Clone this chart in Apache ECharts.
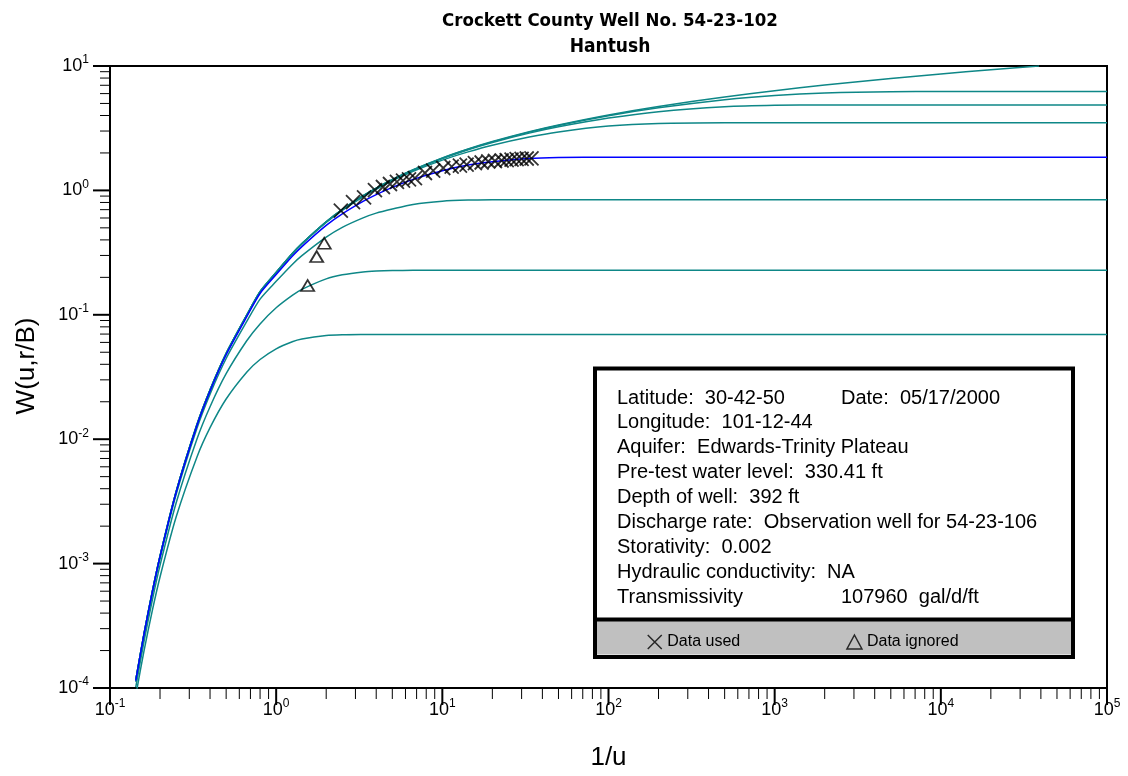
<!DOCTYPE html>
<html>
<head>
<meta charset="utf-8">
<title>Crockett County Well No. 54-23-102</title>
<script src="https://cdn.jsdelivr.net/npm/echarts@6/dist/echarts.min.js"></script>
<style>
  html, body { margin: 0; padding: 0; background: #fff; }
  #chart { width: 1128px; height: 776px; }
</style>
</head>
<body>
<div id="chart"></div>
<script>
// 1/u positions shared by every type curve
const xValues = [0.1429, 0.16, 0.18, 0.2, 0.25, 0.3333, 0.4, 0.5, 0.6667, 0.8, 1, 1.25, 1.4286, 2, 2.5, 3.3333, 4, 5, 6.6667, 10, 14.29, 20, 33.33, 50, 100, 200, 500, 1000, 2000, 5000, 10000, 20000, 39000, 100000];

// W(u,r/B)
const wTheis = [1.155e-4, 2.704e-4, 6.01e-4, 1.148e-3, 3.779e-3, 1.305e-2, 2.491e-2, 4.89e-2, 0.1, 0.1536, 0.2194, 0.3106, 0.3738, 0.5598, 0.7024, 0.9057, 1.0443, 1.2227, 1.4645, 1.8229, 2.1508, 2.4679, 2.9591, 3.3547, 4.0379, 4.7261, 5.6394, 6.3315, 7.0242, 7.9402, 8.6332, 9.3263, 9.99, null];
const wRB005 = [1.155e-4, 2.704e-4, 6.01e-4, 1.148e-3, 3.778e-3, 1.305e-2, 2.49e-2, 4.888e-2, 0.09996, 0.1535, 0.2193, 0.3104, 0.3736, 0.5594, 0.7018, 0.9046, 1.0429, 1.2206, 1.4612, 1.8169, 2.1409, 2.4545, 2.94, 3.3268, 3.9832, 4.6094, 5.3537, 5.7967, 6.075, 6.2174, 6.2282, 6.2285, 6.2285, 6.2285];
const wRB01 = [1.1546e-4, 2.7031e-4, 6.0078e-4, 1.1475e-3, 3.777e-3, 1.3041e-2, 2.4891e-2, 4.8854e-2, 0.099881, 0.15339, 0.21903, 0.30998, 0.37296, 0.55812, 0.69984, 0.90144, 1.03851, 1.21439, 1.4515, 1.79918, 2.122, 2.4271, 2.8858, 3.243, 3.8156, 4.296, 4.7007, 4.8292, 4.853, 4.8541, 4.8541, 4.8541, 4.8541, 4.8541];
const wRB02 = [1.1535e-4, 2.7002e-4, 6.0006e-4, 1.146e-3, 3.7711e-3, 1.3015e-2, 2.4833e-2, 4.8717e-2, 0.099525, 0.15275, 0.21794, 0.30811, 0.37045, 0.55312, 0.69223, 0.8888, 1.0213, 1.195, 1.4245, 1.7527, 2.0407, 2.3104, 2.6882, 2.9523, 3.2875, 3.4567, 3.5043, 3.5054, 3.5054, 3.5054, 3.5054, 3.5054, 3.5054, 3.5054];
const wRB05 = [1.1459e-4, 2.6803e-4, 5.9516e-4, 1.1358e-3, 3.7301e-3, 1.2834e-2, 2.443e-2, 4.7767e-2, 0.097067, 0.14837, 0.21045, 0.29538, 0.35337, 0.523, 0.647, 0.815, 0.9244, 1.0568, 1.2258, 1.441, 1.5971, 1.7004, 1.8062, 1.8378, 1.8485, 1.8488, 1.8488, 1.8488, 1.8488, 1.8488, 1.8488, 1.8488, 1.8488, 1.8488];
const wRB1 = [1.119e-4, 2.611e-4, 5.78e-4, 1.0998e-3, 3.587e-3, 1.2208e-2, 2.3047e-2, 4.452e-2, 0.08878, 0.1337, 0.1857, 0.254, 0.2986, 0.421, 0.5047, 0.6015, 0.6563, 0.7083, 0.7718, 0.819, 0.836, 0.8409, 0.842, 0.842, 0.842, 0.842, 0.842, 0.842, 0.842, 0.842, 0.842, 0.842, 0.842, 0.842];
const wRB2 = [1.017e-4, 2.349e-4, 5.141e-4, 9.672e-4, 3.068e-3, 9.995e-3, 1.825e-2, 3.361e-2, 0.0621, 0.0845, 0.1139, 0.1433, 0.16, 0.1944, 0.2096, 0.2211, 0.2247, 0.2268, 0.2277, 0.2278, 0.2278, 0.2278, 0.2278, 0.2278, 0.2278, 0.2278, 0.2278, 0.2278, 0.2278, 0.2278, 0.2278, 0.2278, 0.2278, 0.2278];
const wRB3 = [8.68e-5, 1.971e-4, 4.229e-4, 7.81e-4, 2.365e-3, 7.162e-3, 1.237e-2, 2.103e-2, 0.0347, 0.0437, 0.0533, 0.0607, 0.0638, 0.0681, 0.0691, 0.06945, 0.0695, 0.0695, 0.0695, 0.0695, 0.0695, 0.0695, 0.0695, 0.0695, 0.0695, 0.0695, 0.0695, 0.0695, 0.0695, 0.0695, 0.0695, 0.0695, 0.0695, 0.0695];

// observations
const usedX = [2.45, 2.9, 3.38, 3.93, 4.39, 4.84, 5.33, 5.8, 6.3, 6.84, 7.86, 8.81, 10.13, 11.38, 12.76, 14.0, 15.7, 17.24, 18.89, 20.73, 22.74, 24.4, 26.1, 28.0, 30.0, 32.2, 34.4];
const usedY = [0.689, 0.804, 0.88, 1.007, 1.065, 1.126, 1.17, 1.2, 1.225, 1.255, 1.38, 1.445, 1.514, 1.556, 1.585, 1.614, 1.66, 1.676, 1.707, 1.723, 1.739, 1.755, 1.771, 1.781, 1.795, 1.805, 1.811];
const ignoredX = [1.547, 1.753, 1.947];
const ignoredY = [0.172, 0.294, 0.376];

// axis decades (tick labels are 10^k)
const xDecades = [-1, 0, 1, 2, 3, 4, 5];
const yDecades = [-4, -3, -2, -1, 0, 1];

const infoRows = [
  ["Latitude:  30-42-50", "Date:  05/17/2000"],
  ["Longitude:  101-12-44", ""],
  ["Aquifer:  Edwards-Trinity Plateau", ""],
  ["Pre-test water level:  330.41 ft", ""],
  ["Depth of well:  392 ft", ""],
  ["Discharge rate:  Observation well for 54-23-106", ""],
  ["Storativity:  0.002", ""],
  ["Hydraulic conductivity:  NA", ""],
  ["Transmissivity", "107960  gal/d/ft"],
];

const FONT = '"Liberation Sans", Arial, sans-serif';
const TITLE_FONT = '"Liberation Sans Narrow", "DejaVu Sans Condensed", sans-serif';
const TEAL = "#0e8787";
const BLUE = "#0000ff";
const X_ICON = "path://M0,0L10,10M10,0L0,10";

const xMin = Math.pow(10, xDecades[0]);
const xMax = Math.pow(10, xDecades[xDecades.length - 1]);
const yMin = Math.pow(10, yDecades[0]);
const yMax = Math.pow(10, yDecades[yDecades.length - 1]);

function pairs(ys) {
  return xValues.map((x, i) => [x, ys[i]]).filter((p) => p[1] != null);
}

function minorTicks(decades) {
  const out = [];
  decades.slice(0, -1).forEach((k) => {
    for (let m = 2; m <= 9; m++) {
      out.push(m * Math.pow(10, k));
    }
  });
  return out;
}

function tickSeries(values, vertical, length, width) {
  return {
    type: "custom",
    silent: true,
    clip: false,
    z: 6,
    data: values.map((v) => (vertical ? [xMin, v] : [v, yMin])),
    renderItem: (params, api) => {
      const p = api.coord([api.value(0), api.value(1)]);
      const shape = vertical
        ? { x1: p[0], y1: p[1], x2: p[0] - length, y2: p[1] }
        : { x1: p[0], y1: p[1], x2: p[0], y2: p[1] + length };
      return { type: "line", shape, style: { stroke: "#000", lineWidth: width } };
    },
  };
}

function powerLabel(value) {
  return `{b|10}{s|${Math.round(Math.log10(value))}}`;
}

const labelRich = {
  b: { fontSize: 18, fontFamily: FONT, color: "#000" },
  s: { fontSize: 12, fontFamily: FONT, color: "#000", padding: [0, 0, 12, 0] },
};

const typeCurves = [
  { name: "r/B 0", values: wTheis, color: TEAL },
  { name: "r/B 0.05", values: wRB005, color: TEAL },
  { name: "r/B 0.1", values: wRB01, color: TEAL },
  { name: "r/B 0.2", values: wRB02, color: TEAL },
  { name: "r/B 1", values: wRB1, color: TEAL },
  { name: "r/B 2", values: wRB2, color: TEAL },
  { name: "r/B 3", values: wRB3, color: TEAL },
  { name: "r/B 0.5", values: wRB05, color: BLUE },
];

const curveSeries = typeCurves.map((c) => ({
  name: c.name,
  type: "line",
  data: pairs(c.values),
  symbol: "none",
  smooth: 0.25,
  clip: true,
  z: c.color === BLUE ? 3 : 2,
  lineStyle: { color: c.color, width: 1.5 },
}));

const infoGraphics = [];
infoRows.forEach((row, i) => {
  const y = 398 + i * 24.9;
  infoGraphics.push({
    type: "text", z: 11,
    style: { text: row[0], x: 617, y, font: `20px ${FONT}`, fill: "#000", verticalAlign: "middle" },
  });
  if (row[1]) {
    infoGraphics.push({
      type: "text", z: 11,
      style: { text: row[1], x: 841, y, font: `20px ${FONT}`, fill: "#000", verticalAlign: "middle" },
    });
  }
});

const chart = echarts.init(document.getElementById("chart"));

chart.setOption({
  animation: false,
  backgroundColor: "#fff",
  textStyle: { fontFamily: FONT },
  title: {
    text: "Crockett County Well No. 54-23-102",
    subtext: "Hantush",
    left: 605,
    top: 7,
    textAlign: "center",
    itemGap: 7,
    textStyle: { fontFamily: TITLE_FONT, fontWeight: "bold", fontSize: 18.5, color: "#000" },
    subtextStyle: { fontFamily: TITLE_FONT, fontWeight: "bold", fontSize: 19, color: "#000" },
  },
  grid: {
    left: 110,
    right: 21,
    top: 66,
    bottom: 88,
    show: true,
    borderColor: "#000",
    borderWidth: 2,
    backgroundColor: "transparent",
  },
  xAxis: {
    type: "log",
    logBase: 10,
    min: xMin,
    max: xMax,
    splitNumber: 6,
    name: "1/u",
    nameLocation: "middle",
    nameGap: 57,
    nameTextStyle: { fontSize: 26, fontFamily: FONT, color: "#000" },
    axisLine: { lineStyle: { color: "#000", width: 2 } },
    axisTick: { show: false },
    splitLine: { show: false },
    axisLabel: { margin: 10, formatter: powerLabel, rich: labelRich },
  },
  yAxis: {
    type: "log",
    logBase: 10,
    min: yMin,
    max: yMax,
    splitNumber: 5,
    name: "W(u,r/B)",
    nameLocation: "middle",
    nameGap: 70,
    nameTextStyle: { fontSize: 26, fontFamily: FONT, color: "#000", padding: [0, 0, 0, 22] },
    axisLine: { lineStyle: { color: "#000", width: 2 } },
    axisTick: { show: false },
    splitLine: { show: false },
    axisLabel: { margin: 21, formatter: powerLabel, rich: labelRich },
  },
  legend: {
    left: 642,
    top: 629,
    z: 12,
    itemWidth: 15,
    itemHeight: 14,
    itemGap: 106,
    selectedMode: false,
    textStyle: { fontSize: 16, fontFamily: FONT, color: "#000" },
    data: [
      { name: "Data used", icon: X_ICON, itemStyle: { color: "transparent", borderColor: "#000", borderWidth: 1.5 } },
      { name: "Data ignored", icon: "triangle", itemStyle: { color: "transparent", borderColor: "#000", borderWidth: 1.5 } },
    ],
  },
  graphic: [
    {
      type: "rect", z: 10,
      shape: { x: 595, y: 368.5, width: 478, height: 288.5 },
      style: { fill: "#fff", stroke: "#000", lineWidth: 4 },
    },
    {
      type: "rect", z: 10,
      shape: { x: 597, y: 621, width: 474, height: 33.5 },
      style: { fill: "#c0c0c0" },
    },
    {
      type: "line", z: 10,
      shape: { x1: 595, y1: 619.5, x2: 1073, y2: 619.5 },
      style: { stroke: "#000", lineWidth: 4 },
    },
    ...infoGraphics,
  ],
  series: [
    ...curveSeries,
    {
      name: "Data used",
      type: "scatter",
      z: 4,
      symbol: X_ICON,
      symbolSize: 14,
      itemStyle: { color: "transparent", borderColor: "#000", borderWidth: 1.8 },
      data: usedX.map((x, i) => [x, usedY[i]]),
    },
    {
      name: "Data ignored",
      type: "scatter",
      z: 4,
      symbol: "triangle",
      symbolSize: [13, 11],
      itemStyle: { color: "transparent", borderColor: "#000", borderWidth: 1.8 },
      data: ignoredX.map((x, i) => [x, ignoredY[i]]),
    },
    tickSeries(minorTicks(xDecades), false, 11, 1),
    tickSeries(xDecades.map((k) => Math.pow(10, k)), false, 17, 2),
    tickSeries(minorTicks(yDecades), true, 10, 1),
    tickSeries(yDecades.map((k) => Math.pow(10, k)), true, 17, 2),
  ],
});
</script>
</body>
</html>
